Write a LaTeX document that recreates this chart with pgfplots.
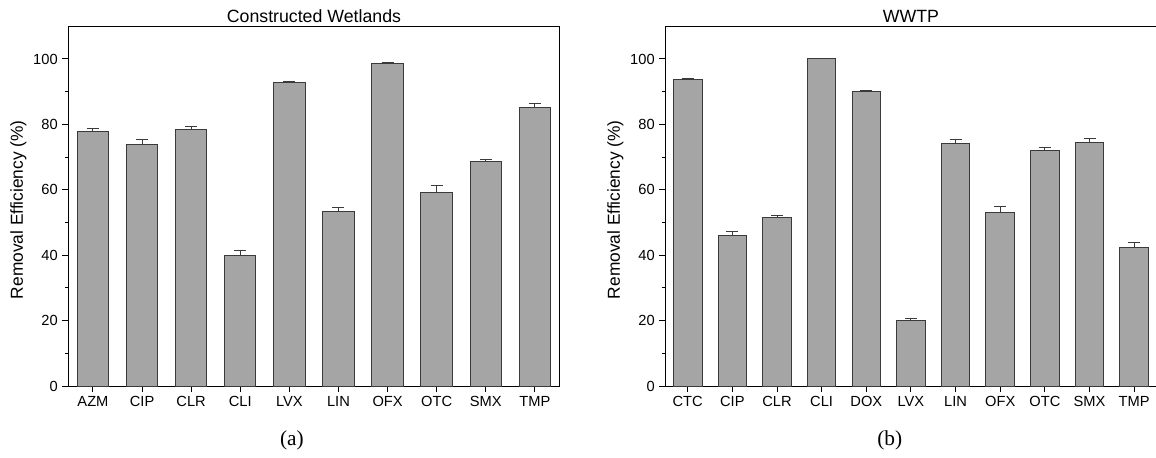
\documentclass[border=0pt]{standalone}
\usepackage{pgfplots}
\pgfplotsset{compat=1.18}
\usepackage{pgfplotstable}
\usepackage{fontspec}
\setmainfont{Liberation Sans}
\newfontfamily\capfont{Liberation Serif}
\definecolor{barfill}{HTML}{A5A5A5}
\definecolor{baredge}{HTML}{3A3A3A}

\pgfplotstableread{
x y e
0 77.7 1.0
1 73.9 1.5
2 78.3 0.9
3 40.0 1.5
4 92.9 0.3
5 53.3 1.4
6 98.5 0.3
7 59.3 2.0
8 68.5 0.7
9 85.2 1.1
}\cwdata

\pgfplotstableread{
x y e
0 93.6 0.4
1 46.1 1.0
2 51.6 0.4
3 100.0 0.0
4 90.0 0.3
5 20.1 0.6
6 74.0 1.4
7 53.1 1.9
8 72.1 0.7
9 74.5 1.1
10 42.5 1.5
}\wwtpdata

\pgfplotsset{
 myaxis/.style={
  scale only axis, width=368.3pt, height=269.8pt, clip=false,
  ymin=0, ymax=110, ytick={0,20,...,100}, minor y tick num=1,
  tick align=outside, ytick pos=left, xtick pos=bottom,
  major tick length=4.5pt, minor tick length=2.5pt,
  axis line style={line width=0.75pt, black},
  every tick/.style={black, line width=0.75pt},
  tick label style={font=\fontsize{11}{13}\selectfont},
  /pgf/number format/assume math mode=true,
  label style={font=\fontsize{13}{15}\selectfont},
  every axis title shift=0pt,
  title style={font=\fontsize{13.3}{15}\selectfont, at={(0.5,1)}, anchor=base, yshift=2.8pt},
  ylabel={Removal Efficiency (\%)},
  ylabel style={at={(axis description cs:-0.102,0.49)}, anchor=center},
  xtick=data,
 },
 mybar/.style={ybar, bar width=0.64, fill=barfill, draw=baredge, line width=0.75pt,
  error bars/.cd, y dir=plus, y explicit,
  error bar style={draw=baredge, line width=0.75pt},
  error mark options={draw=baredge, line width=0.75pt, mark size=4.5pt, rotate=90}},
}

\begin{document}
\begin{tikzpicture}
\begin{axis}[myaxis, at={(51.3pt,53.25pt)}, anchor=south west,
  title={Constructed Wetlands},
  xmin=-0.5, xmax=9.5,
  xticklabels={AZM,CIP,CLR,CLI,LVX,LIN,OFX,OTC,SMX,TMP}]
\addplot[mybar] table[x=x, y=y, y error=e] {\cwdata};
\node[font=\capfont\fontsize{16}{18}\selectfont] at (rel axis cs:0.455,-0.152) {(a)};
\end{axis}
\begin{axis}[myaxis, at={(499.05pt,53.25pt)}, anchor=south west,
  title={WWTP},
  xmin=-0.5, xmax=10.5,
  xticklabels={CTC,CIP,CLR,CLI,DOX,LVX,LIN,OFX,OTC,SMX,TMP}]
\addplot[mybar] table[x=x, y=y, y error=e] {\wwtpdata};
\node[font=\capfont\fontsize{16}{18}\selectfont] at (rel axis cs:0.457,-0.152) {(b)};
\end{axis}
\pgfresetboundingbox
\useasboundingbox (0pt,0pt) rectangle (867pt,342.75pt);
\end{tikzpicture}
\end{document}
